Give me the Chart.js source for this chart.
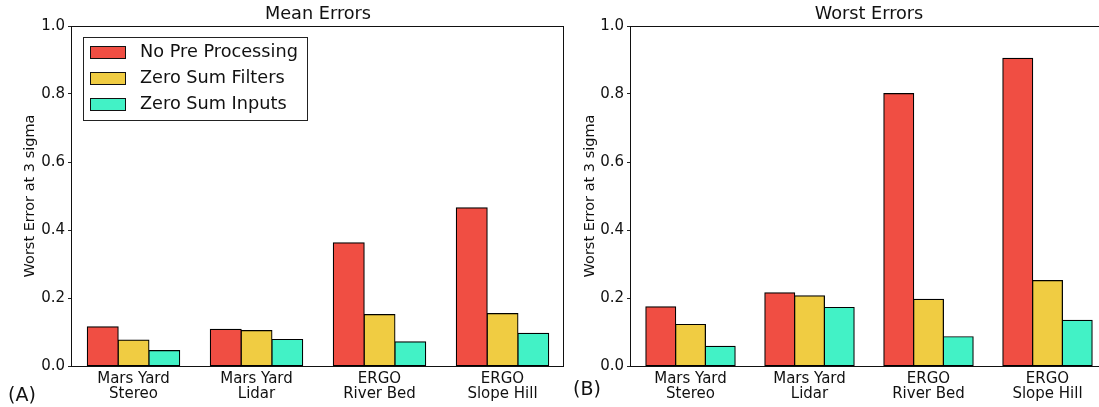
<!DOCTYPE html>
<html>
<head>
<meta charset="utf-8">
<script src="https://cdn.jsdelivr.net/npm/chart.js@4.4.1/dist/chart.umd.min.js"></script>
<style>
  html, body { margin: 0; padding: 0; background: #fff; overflow: hidden; }
  #wrap { position: relative; width: 1099px; height: 407px; overflow: hidden; }
  canvas { position: absolute; top: 0; }
  #meanChart { left: 0; }
  #worstChart { left: 560px; }
  .tag { position: absolute; font-family: 'DejaVu Sans', sans-serif; font-size: 19px; color: #111; line-height: 22px; }
</style>
</head>
<body>
<div id="wrap">
  <canvas id="meanChart" width="572" height="407"></canvas>
  <canvas id="worstChart" width="555" height="407"></canvas>
  <div class="tag" style="left:8px; top:383px;">(A)</div>
  <div class="tag" style="left:573px; top:377px;">(B)</div>
</div>
<script>
// data
const categories = [['Mars Yard', 'Stereo'], ['Mars Yard', 'Lidar'], ['ERGO', 'River Bed'], ['ERGO', 'Slope Hill']];
const seriesNames = ['No Pre Processing', 'Zero Sum Filters', 'Zero Sum Inputs'];
const seriesColors = ['#f04e43', '#f0cc42', '#42f2c6'];

const meanNoPre = [0.115, 0.108, 0.362, 0.465];
const meanFilters = [0.076, 0.104, 0.151, 0.154];
const meanInputs = [0.045, 0.078, 0.071, 0.096];

const worstNoPre = [0.174, 0.215, 0.801, 0.905];
const worstFilters = [0.122, 0.206, 0.196, 0.251];
const worstInputs = [0.058, 0.172, 0.086, 0.134];

const yAxisTitle = 'Worst Error at 3 sigma';
const FONT = "'DejaVu Sans', sans-serif";

// frame, title and in-plot legend (matplotlib look)
const panelDecor = {
  id: 'panelDecor',
  afterDraw(chart, args, opts) {
    const ctx = chart.ctx;
    const a = chart.chartArea;
    ctx.save();
    ctx.strokeStyle = '#111';
    ctx.lineWidth = 1;
    ctx.strokeRect(Math.round(a.left) - 0.5, Math.round(a.top) + 0.5,
      Math.round(a.right - a.left), Math.round(a.bottom - a.top));

    ctx.fillStyle = '#111';
    ctx.font = '17.7px ' + FONT;
    ctx.textAlign = 'center';
    ctx.textBaseline = 'middle';
    ctx.fillText(opts.title, (a.left + a.right) / 2, 14);

    if (opts.legend) {
      ctx.strokeStyle = '#222';
      ctx.strokeRect(83.5, 37.5, 224, 83);
      ctx.textAlign = 'left';
      chart.data.datasets.forEach((ds, i) => {
        const y = 52 + i * 26;
        ctx.fillStyle = ds.backgroundColor;
        ctx.fillRect(90, y - 6, 35, 12);
        ctx.strokeStyle = '#111';
        ctx.strokeRect(90.5, y - 5.5, 35, 12);
        ctx.fillStyle = '#111';
        ctx.fillText(ds.label, 140, y);
      });
    }
    ctx.restore();
  }
};

function makeChart(id, title, values, yWidth, showLegend) {
  return new Chart(document.getElementById(id), {
    type: 'bar',
    data: {
      labels: categories,
      datasets: values.map((v, i) => ({
        label: seriesNames[i],
        data: v,
        backgroundColor: seriesColors[i],
        borderColor: '#000',
        borderWidth: 1.2,
        borderSkipped: false,
        inflateAmount: 0.6,
        categoryPercentage: 0.75,
        barPercentage: 1.0
      }))
    },
    options: {
      responsive: false,
      animation: false,
      devicePixelRatio: 1,
      layout: { padding: { top: 26, right: 8, left: 0, bottom: 0 } },
      plugins: {
        legend: { display: false },
        tooltip: { enabled: false },
        title: { display: false },
        panelDecor: { title: title, legend: showLegend }
      },
      scales: {
        x: {
          grid: { display: false, drawTicks: false, tickLength: 0 },
          border: { display: false },
          ticks: { color: '#111', font: { family: FONT, size: 15, lineHeight: 1.03 }, padding: 5, maxRotation: 0 },
          afterFit: s => { s.height = 41; }
        },
        y: {
          min: 0,
          max: 1,
          ticks: { stepSize: 0.2, color: '#111', font: { family: FONT, size: 15 }, padding: 3,
            callback: v => v.toFixed(1) },
          grid: { drawOnChartArea: false, drawTicks: true, tickLength: 4, color: '#222' },
          border: { display: false },
          title: { display: true, text: yAxisTitle, color: '#111', font: { family: FONT, size: 14.5 },
            padding: { top: 22, bottom: 0 } },
          afterFit: s => { s.width = yWidth; }
        }
      }
    },
    plugins: [panelDecor]
  });
}

makeChart('meanChart', 'Mean Errors', [meanNoPre, meanFilters, meanInputs], 72, true);
makeChart('worstChart', 'Worst Errors', [worstNoPre, worstFilters, worstInputs], 71, false);
</script>
</body>
</html>
